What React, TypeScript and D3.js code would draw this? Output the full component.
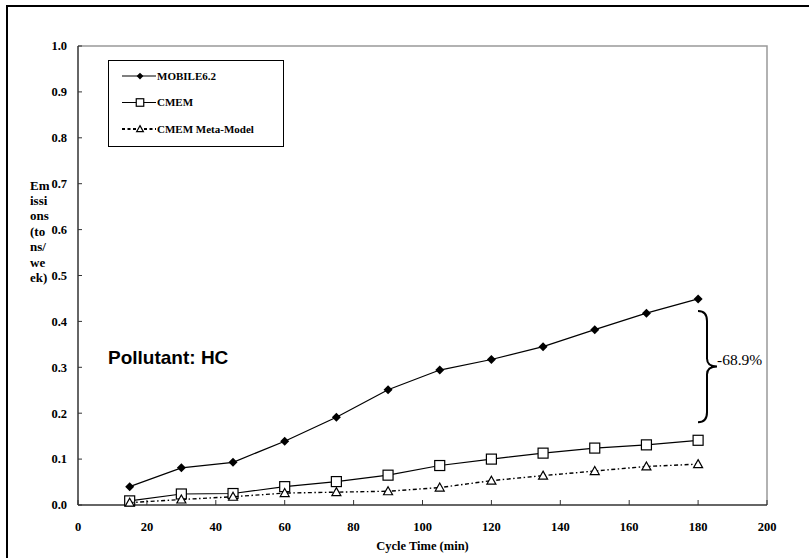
import * as d3 from "d3";

const cycleTimes = [15, 30, 45, 60, 75, 90, 105, 120, 135, 150, 165, 180];
const mobile62 = [0.04, 0.081, 0.093, 0.139, 0.191, 0.251, 0.294, 0.317, 0.345, 0.382, 0.418, 0.449];
const cmem = [0.009, 0.024, 0.025, 0.04, 0.051, 0.065, 0.086, 0.1, 0.113, 0.124, 0.131, 0.141];
const cmemMeta = [0.005, 0.012, 0.018, 0.026, 0.028, 0.03, 0.038, 0.053, 0.064, 0.074, 0.084, 0.089];
const xTicks = [0, 20, 40, 60, 80, 100, 120, 140, 160, 180, 200];
const yTicks = [0, 0.1, 0.2, 0.3, 0.4, 0.5, 0.6, 0.7, 0.8, 0.9, 1.0];
const yTitleLines = ["Em", "issi", "ons", "(to", "ns/", "we", "ek)"];
const legendNames = ["MOBILE6.2", "CMEM", "CMEM Meta-Model"];
const bracketLabel = "-68.9%";

const serif = "'Liberation Serif', 'Times New Roman', serif";

function Marker({ kind, cx, cy, k = 1 }: { kind: string; cx: number; cy: number; k?: number }) {
  if (kind === "diamond") {
    const s = 4.5 * k;
    return <path d={`M${cx},${cy - s}L${cx + s},${cy}L${cx},${cy + s}L${cx - s},${cy}Z`} fill="#000" />;
  }
  if (kind === "square") {
    const s = 5 * k;
    return <rect x={cx - s} y={cy - s} width={2 * s} height={2 * s} fill="#fff" stroke="#000" strokeWidth={1.2} />;
  }
  const s = 4.5 * k;
  return <path d={`M${cx},${cy - s}L${cx + s},${cy + s * 0.78}L${cx - s},${cy + s * 0.78}Z`} fill="#fff" stroke="#000" strokeWidth={1.2} />;
}

export default function App() {
  const width = 809;
  const height = 558;
  const left = 78, right = 767, top = 46, bottom = 505;

  const x = d3.scaleLinear().domain([0, 200]).range([left, right]);
  const y = d3.scaleLinear().domain([0, 1]).range([bottom, top]);

  const line = d3.line<number>().x((_, i) => x(cycleTimes[i])).y(d => y(d));

  const series = [
    { name: legendNames[0], values: mobile62, marker: "diamond", dash: undefined },
    { name: legendNames[1], values: cmem, marker: "square", dash: undefined },
    { name: legendNames[2], values: cmemMeta, marker: "triangle", dash: "4,2.5,1.5,2.5" },
  ];

  // brace between MOBILE6.2 and CMEM at the last cycle time
  const bTop = y(mobile62[mobile62.length - 1]) + 12;
  const bBot = y(cmem[cmem.length - 1]) - 18;
  const bMid = (bTop + bBot) / 2;
  const bx = 698, sx = 707, tipX = 717;
  const brace = `M${bx},${bTop} Q${sx},${bTop} ${sx},${bTop + 10} L${sx},${bMid - 8} Q${sx},${bMid} ${tipX},${bMid} Q${sx},${bMid} ${sx},${bMid + 8} L${sx},${bBot - 10} Q${sx},${bBot} ${bx},${bBot}`;

  return (
    <svg width={width} height={height} style={{ display: "block", position: "absolute", left: 0, top: 0 }}>
      <rect x={0} y={0} width={width} height={height} fill="#fff" />
      {/* outer frame */}
      <path d={`M7,${height + 5}L7,6L${width + 5},6`} fill="none" stroke="#000" strokeWidth={2} />

      {/* plot frame */}
      <path d={`M${left},${top}L${right},${top}L${right},${bottom}`} fill="none" stroke="#999" strokeWidth={1.5} />
      <line x1={left} y1={top} x2={left} y2={bottom} stroke="#333" strokeWidth={1.5} />
      <line x1={left} y1={bottom} x2={right} y2={bottom} stroke="#333" strokeWidth={1.5} />

      {/* y ticks */}
      {yTicks.map(t => (
        <g key={t}>
          <line x1={left} x2={left + 4} y1={y(t)} y2={y(t)} stroke="#333" />
          <text x={67} y={y(t)} dy="0.35em" textAnchor="end" fontFamily={serif} fontWeight="bold" fontSize={12.5}>
            {t.toFixed(1)}
          </text>
        </g>
      ))}
      {/* x ticks */}
      {xTicks.map(t => (
        <g key={t}>
          <line x1={x(t)} x2={x(t)} y1={bottom} y2={bottom - 5} stroke="#333" />
          <text x={x(t)} y={527} dy="0.35em" textAnchor="middle" fontFamily={serif} fontWeight="bold" fontSize={12.5}>
            {t}
          </text>
        </g>
      ))}
      <text x={(left + right) / 2} y={546} dy="0.35em" textAnchor="middle" fontFamily={serif} fontWeight="bold" fontSize={12.5}>
        Cycle Time (min)
      </text>
      {yTitleLines.map((s, i) => (
        <text key={s} x={30} y={185 + i * 15.4} dy="0.35em" fontFamily={serif} fontWeight="bold" fontSize={13}>
          {s}
        </text>
      ))}

      {/* series */}
      {series.map(s => (
        <g key={s.name}>
          <path d={line(s.values) ?? ""} fill="none" stroke="#000" strokeWidth={s.dash ? 1.4 : 1.2} strokeDasharray={s.dash} />
          {s.values.map((v, i) => (
            <Marker key={i} kind={s.marker} cx={x(cycleTimes[i])} cy={y(v)} />
          ))}
        </g>
      ))}

      {/* legend */}
      <rect x={108.5} y={60.5} width={175} height={86} fill="#fff" stroke="#000" strokeWidth={1} />
      {series.map((s, i) => {
        const ly = 76 + i * 26.5;
        return (
          <g key={s.name}>
            <line x1={122} x2={156} y1={ly} y2={ly} stroke="#000" strokeWidth={s.dash ? 1.8 : 1.2} strokeDasharray={s.dash ? "3,2.5" : undefined} />
            <Marker kind={s.marker} cx={140} cy={ly} k={0.75} />
            <text x={157} y={ly} dy="0.35em" fontFamily={serif} fontWeight="bold" fontSize={11}>
              {s.name}
            </text>
          </g>
        );
      })}

      {/* annotations */}
      <text x={108} y={357} dy="0.35em" fontFamily="'Liberation Sans', Arial, sans-serif" fontWeight="bold" fontSize={19}>
        Pollutant: HC
      </text>
      <path d={brace} fill="none" stroke="#000" strokeWidth={2} />
      <text x={717} y={360} dy="0.35em" fontFamily={serif} fontSize={15.5}>
        {bracketLabel}
      </text>
    </svg>
  );
}
